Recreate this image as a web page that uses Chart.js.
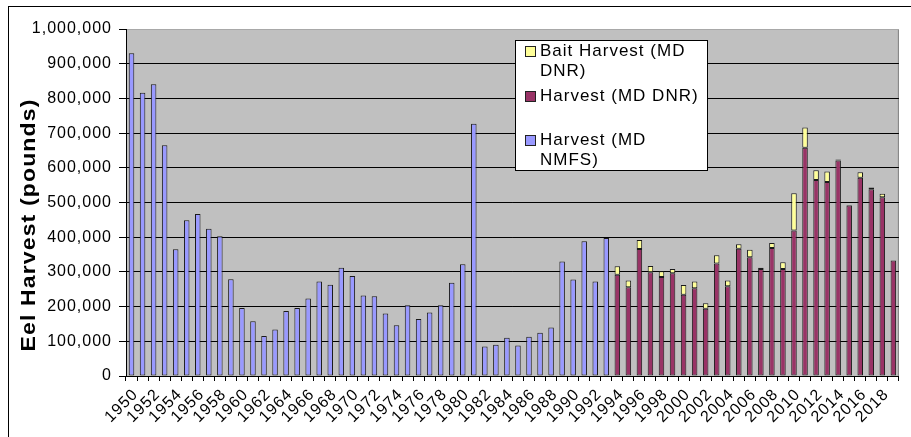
<!DOCTYPE html>
<html>
<head>
<meta charset="utf-8">
<script src="https://cdn.jsdelivr.net/npm/chart.js@4.4.1/dist/chart.umd.min.js"></script>
<style>
html, body { margin: 0; padding: 0; background: #fff; }
#wrap { width: 911px; height: 437px; }
</style>
</head>
<body>
<div id="wrap"><canvas id="eelChart" width="911" height="437"></canvas></div>
<script>
var years = [1950, 1951, 1952, 1953, 1954, 1955, 1956, 1957, 1958, 1959,
    1960, 1961, 1962, 1963, 1964, 1965, 1966, 1967, 1968, 1969,
    1970, 1971, 1972, 1973, 1974, 1975, 1976, 1977, 1978, 1979,
    1980, 1981, 1982, 1983, 1984, 1985, 1986, 1987, 1988, 1989,
    1990, 1991, 1992, 1993, 1994, 1995, 1996, 1997, 1998, 1999,
    2000, 2001, 2002, 2003, 2004, 2005, 2006, 2007, 2008, 2009,
    2010, 2011, 2012, 2013, 2014, 2015, 2016, 2017, 2018, 2019];

// 1950 - 1993
var nmfsHarvest = [930000, 816000, 841000, 665000, 365000, 449000, 467000, 424000, 403000, 279000,
    196000, 158000, 115000, 134000, 187000, 196000, 223000, 272000, 263000, 312000,
    288000, 232000, 230000, 180000, 146000, 204000, 164000, 183000, 204000, 269000,
    322000, 727000, 85000, 90000, 110000, 88000, 113000, 125000, 140000, 330000,
    278000, 388000, 272000, 398000];

// 1994 - 2019
var dnrHarvest = [292000, 256000, 366000, 299000, 285000, 296000, 234000, 253000, 194000, 324000,
    259000, 367000, 342000, 308000, 369000, 308000, 419000, 658000, 565000, 559000,
    621000, 491000, 571000, 538000, 515000, 333000];

var baitHarvest = [24000, 19000, 26000, 18000, 17000, 12000, 28000, 19000, 16000, 24000,
    16000, 13000, 22000, 4000, 14000, 20000, 108000, 58000, 28000, 30000,
    3000, 2000, 16000, 5000, 10000, 0];

var seriesNames = ['Harvest (MD NMFS)', 'Harvest (MD DNR)', 'Bait Harvest (MD DNR)'];
var yTicks = [0, 100000, 200000, 300000, 400000, 500000, 600000, 700000, 800000, 900000, 1000000];
var yTitle = 'Eel Harvest (pounds)';

var fontFamily = '"Liberation Sans", Arial, sans-serif';
var colors = ['#9999FF', '#993366', '#FFFF99'];

// pad the two periods out to the full list of years
var nmfsData = nmfsHarvest.concat(years.slice(nmfsHarvest.length).map(function() { return null; }));
var lead = years.slice(0, years.length - dnrHarvest.length).map(function() { return null; });
var dnrData = lead.concat(dnrHarvest);
var baitData = lead.concat(baitHarvest);

function barSet(label, values, color) {
    return {
        label: label,
        data: values,
        backgroundColor: color,
        borderColor: '#1a1a1a',
        borderWidth: 1,
        borderSkipped: false,
        barPercentage: 0.5,
        categoryPercentage: 1.0
    };
}

var framePlugin = {
    id: 'frame',
    beforeUpdate: function(chart) { chart.ctx.letterSpacing = '1px'; },
    beforeDraw: function(chart) {
        var ctx = chart.ctx;
        var a = chart.chartArea;
        ctx.letterSpacing = '1px';
        ctx.save();
        ctx.fillStyle = '#fff';
        ctx.fillRect(0, 0, chart.width, chart.height);
        ctx.strokeStyle = '#000';
        ctx.lineWidth = 1;
        ctx.strokeRect(8.5, 6.5, 1000, 1000);
        ctx.fillStyle = '#C0C0C0';
        ctx.fillRect(a.left, a.top, a.right - a.left, a.bottom - a.top);
        ctx.strokeStyle = '#808080';
        ctx.beginPath();
        ctx.moveTo(a.right - 0.5, a.top);
        ctx.lineTo(a.right - 0.5, a.bottom);
        ctx.stroke();
        ctx.restore();
    },
    afterDraw: function(chart) {
        var ctx = chart.ctx;
        ctx.save();

        // axis title
        ctx.translate(29, 225);
        ctx.rotate(-Math.PI / 2);
        ctx.scale(1.15, 1);
        ctx.font = 'bold 20px ' + fontFamily;
        ctx.textAlign = 'center';
        ctx.textBaseline = 'middle';
        ctx.fillStyle = '#000';
        ctx.fillText(yTitle, 0, 0);
        ctx.restore();

        // legend box, drawn last series first
        var legendText = [['Bait Harvest (MD', 'DNR)'], ['Harvest (MD DNR)'], ['Harvest (MD', 'NMFS)']];
        var rowY = [51, 96, 140];
        ctx.save();
        ctx.fillStyle = '#fff';
        ctx.fillRect(515, 40, 193, 131);
        ctx.strokeStyle = '#000';
        ctx.lineWidth = 1;
        ctx.strokeRect(515.5, 40.5, 192, 130);
        ctx.font = '17px ' + fontFamily;
        ctx.textBaseline = 'middle';
        ctx.textAlign = 'left';
        var sets = chart.data.datasets.slice().reverse();
        sets.forEach(function(ds, i) {
            ctx.fillStyle = ds.backgroundColor;
            ctx.fillRect(525, rowY[i] - 5, 11, 11);
            ctx.strokeStyle = '#222';
            ctx.strokeRect(525.5, rowY[i] - 4.5, 10, 10);
            ctx.fillStyle = '#000';
            legendText[i].forEach(function(line, j) {
                ctx.fillText(line, 540, rowY[i] + j * 20);
            });
        });
        ctx.restore();
    }
};

var ctx = document.getElementById('eelChart').getContext('2d');

var eelChart = new Chart(ctx, {
    type: 'bar',
    data: {
        labels: years,
        datasets: [
            barSet(seriesNames[0], nmfsData, colors[0]),
            barSet(seriesNames[1], dnrData, colors[1]),
            barSet(seriesNames[2], baitData, colors[2])
        ]
    },
    options: {
        responsive: false,
        animation: false,
        devicePixelRatio: 1,
        layout: { padding: { left: 0, right: 9, top: 29, bottom: 0 } },
        plugins: {
            legend: { display: false },
            tooltip: { enabled: false }
        },
        scales: {
            x: {
                stacked: true,
                grid: { offset: true, drawOnChartArea: false, drawTicks: true, tickLength: 5, tickColor: '#000' },
                border: { color: '#000', width: 1 },
                ticks: {
                    autoSkip: false,
                    minRotation: 45,
                    maxRotation: 45,
                    padding: 4,
                    labelOffset: 4,
                    color: '#000',
                    font: { family: fontFamily, size: 16 },
                    callback: function(val) {
                        var y = this.getLabelForValue(val);
                        return y % 2 === 0 ? String(y) : '';
                    }
                },
                afterFit: function(scale) { scale.height = 61; }
            },
            y: {
                stacked: true,
                min: 0,
                max: 1000000,
                afterBuildTicks: function(scale) {
                    scale.ticks = yTicks.map(function(v) { return { value: v }; });
                },
                grid: {
                    color: function(c) { return c.tick && c.tick.value === 1000000 ? '#a8a8a8' : '#000'; },
                    tickColor: '#000',
                    tickLength: 7
                },
                border: { color: '#000', width: 1 },
                ticks: {
                    padding: 7,
                    color: '#000',
                    font: { family: fontFamily, size: 16 },
                    callback: function(v) { return v.toLocaleString('en-US'); }
                },
                afterFit: function(scale) { scale.width = 126; }
            }
        }
    },
    plugins: [framePlugin]
});
</script>
</body>
</html>
